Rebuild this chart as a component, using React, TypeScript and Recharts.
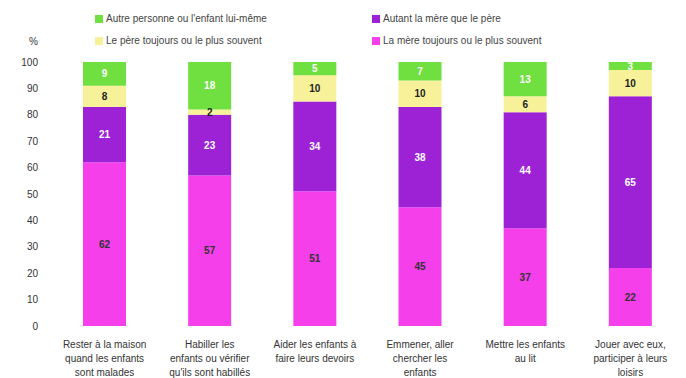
import { BarChart, Bar, XAxis, YAxis, LabelList } from "recharts";

const categories = [
  ["Rester à la maison", "quand les enfants", "sont malades"],
  ["Habiller les", "enfants ou vérifier", "qu'ils sont habillés"],
  ["Aider les enfants à", "faire leurs devoirs"],
  ["Emmener, aller", "chercher les", "enfants"],
  ["Mettre les enfants", "au lit"],
  ["Jouer avec eux,", "participer à leurs", "loisirs"],
];

const mere = [62, 57, 51, 45, 37, 22];
const autant = [21, 23, 34, 38, 44, 65];
const pere = [8, 2, 10, 10, 6, 10];
const autre = [9, 18, 5, 7, 13, 3];

const yTicks = [0, 10, 20, 30, 40, 50, 60, 70, 80, 90, 100];

const data = categories.map((lines, i) => ({
  name: lines.join(" "),
  mere: mere[i],
  autant: autant[i],
  pere: pere[i],
  autre: autre[i],
}));

const series = [
  { key: "mere", name: "La mère toujours ou le plus souvent", color: "#f53fea", text: "#333" },
  { key: "autant", name: "Autant la mère que le père", color: "#9d22d6", text: "#fff" },
  { key: "pere", name: "Le père toujours ou le plus souvent", color: "#f7f29a", text: "#222" },
  { key: "autre", name: "Autre personne ou l'enfant lui-même", color: "#70e040", text: "#fff" },
];

const font = "'Liberation Sans Narrow', 'Liberation Sans', Arial, sans-serif";

function CategoryTick({ x, y, payload }: any) {
  const lines = categories[payload.index] || [];
  return (
    <text x={x} y={y} textAnchor="middle" fontSize={10} fill="#333" fontFamily={font}>
      {lines.map((l, i) => (
        <tspan key={i} x={x} dy={14}>
          {l}
        </tspan>
      ))}
    </text>
  );
}

function LegendBox() {
  const order = [series[3], series[1], series[2], series[0]];
  return (
    <div
      style={{
        position: "absolute",
        left: 95,
        top: 12,
        display: "grid",
        gridTemplateColumns: "277px 260px",
        rowGap: 9,
        fontFamily: font,
        fontSize: 10,
        color: "#444",
      }}
    >
      {order.map((s) => (
        <div key={s.key} style={{ display: "flex", alignItems: "center", height: 13 }}>
          <span style={{ width: 8, height: 8, background: s.color, marginRight: 3, display: "inline-block" }} />
          {s.name}
        </div>
      ))}
    </div>
  );
}

export default function App() {
  return (
    <div style={{ position: "absolute", left: 0, top: 0, width: 686, height: 378, background: "#fff" }}>
      <BarChart
        width={686}
        height={378}
        data={data}
        margin={{ top: 62, right: 3, bottom: 0, left: 0 }}
        barSize={43}
      >
        <XAxis
          dataKey="name"
          tick={<CategoryTick />}
          tickLine={false}
          axisLine={false}
          interval={0}
          height={52}
        />
        <YAxis
          type="number"
          domain={[0, 100]}
          ticks={yTicks}
          width={52}
          tickLine={false}
          axisLine={false}
          tickSize={0}
          tickMargin={14}
          tick={{ fontSize: 10, fill: "#333", fontFamily: font }}
        />
        {series.map((s) => (
          <Bar key={s.key} dataKey={s.key} name={s.name} stackId="a" fill={s.color} isAnimationActive={false}>
            <LabelList
              dataKey={s.key}
              position="center"
              fill={s.text}
              fontSize={10}
              fontWeight="bold"
              fontFamily={font}
            />
          </Bar>
        ))}
      </BarChart>
      <div style={{ position: "absolute", left: 29, top: 36, fontFamily: font, fontSize: 10, color: "#333" }}>%</div>
      <LegendBox />
    </div>
  );
}
